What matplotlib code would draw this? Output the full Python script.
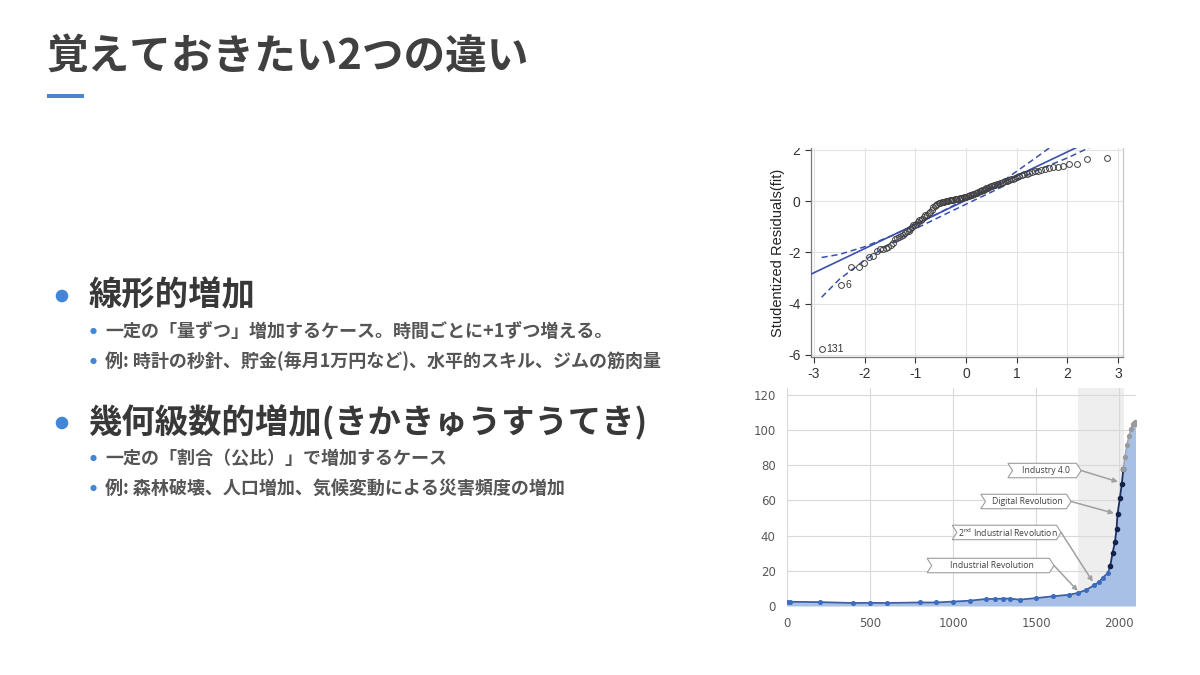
import matplotlib
matplotlib.use("Agg")
import matplotlib.pyplot as plt
from matplotlib.patches import Polygon, Rectangle, Ellipse

# ---- data ----
title = "覚えておきたい2つの違い"
heading_1 = "線形的増加"
bullets_1 = ["一定の「量ずつ」増加するケース。時間ごとに+1ずつ増える。",
             "例: 時計の秒針、貯金(毎月1万円など)、水平的スキル、ジムの筋肉量"]
heading_2 = "幾何級数的増加(きかきゅうすうてき)"
bullets_2 = ["一定の「割合（公比）」で増加するケース",
             "例: 森林破壊、人口増加、気候変動による災害頻度の増加"]

# Q-Q plot (t quantiles vs studentized residuals)
qq_x = [-2.85, -2.47, -2.28, -2.12, -2.01, -1.92, -1.84, -1.76, -1.70, -1.64,
        -1.58, -1.53, -1.48, -1.44, -1.40, -1.36, -1.32, -1.28, -1.24, -1.20,
        -1.17, -1.13, -1.10, -1.07, -1.04, -1.01, -0.98, -0.95, -0.92, -0.89,
        -0.86, -0.83, -0.80, -0.77, -0.74, -0.71, -0.68, -0.65, -0.62, -0.60,
        -0.57, -0.54, -0.51, -0.48, -0.46, -0.43, -0.40, -0.38, -0.35, -0.32,
        -0.30, -0.27, -0.25, -0.22, -0.19, -0.17, -0.14, -0.12, -0.09, -0.07,
        -0.04, -0.02, 0.01, 0.03, 0.06, 0.08, 0.11, 0.13, 0.16, 0.19,
        0.21, 0.24, 0.27, 0.29, 0.32, 0.35, 0.38, 0.40, 0.43, 0.46,
        0.49, 0.52, 0.55, 0.58, 0.61, 0.64, 0.68, 0.71, 0.74, 0.78,
        0.81, 0.85, 0.89, 0.93, 0.97, 1.01, 1.05, 1.10, 1.15, 1.20,
        1.25, 1.30, 1.36, 1.42, 1.49, 1.56, 1.64, 1.72, 1.81, 1.92,
        2.04, 2.19, 2.39, 2.79]
qq_y = [-5.75, -3.28, -2.57, -2.57, -2.41, -2.18, -2.15, -1.93, -1.88, -1.85,
        -1.82, -1.80, -1.72, -1.64, -1.47, -1.44, -1.40, -1.37, -1.33, -1.25,
        -1.18, -1.15, -1.10, -1.02, -0.95, -0.92, -0.88, -0.80, -0.75, -0.72,
        -0.68, -0.62, -0.56, -0.53, -0.48, -0.42, -0.35, -0.24, -0.18, -0.15,
        -0.12, -0.09, -0.07, -0.05, -0.04, -0.02, 0.00, 0.01, 0.02, 0.03,
        0.04, 0.05, 0.06, 0.07, 0.08, 0.09, 0.10, 0.11, 0.12, 0.13,
        0.14, 0.15, 0.17, 0.19, 0.21, 0.23, 0.25, 0.27, 0.29, 0.31,
        0.33, 0.36, 0.38, 0.40, 0.42, 0.45, 0.48, 0.50, 0.52, 0.55,
        0.58, 0.60, 0.62, 0.64, 0.66, 0.68, 0.70, 0.72, 0.74, 0.77,
        0.79, 0.82, 0.85, 0.88, 0.91, 0.94, 0.97, 1.01, 1.04, 1.07,
        1.10, 1.13, 1.16, 1.19, 1.22, 1.25, 1.28, 1.31, 1.34, 1.38,
        1.43, 1.46, 1.66, 1.69]
qq_labels = {1: "6", 0: "131"}
fit_x = [-3.06, 2.3]
fit_y = [-2.85, 2.2]
env_hi_x = [-2.85, -2.5, -2.0, -1.5, -1.0, -0.5, 0.0, 0.5, 0.8, 1.1, 1.4, 1.7]
env_hi_y = [-2.2, -2.08, -1.78, -1.38, -0.93, -0.43, 0.08, 0.55, 0.88, 1.3, 1.72, 2.15]
env_lo_x = [-2.85, -2.5, -2.2, -2.0, -1.5, -1.0, -0.5, 0.0, 0.5, 1.0, 1.5, 2.0, 2.45]
env_lo_y = [-3.75, -3.05, -2.6, -2.3, -1.68, -1.08, -0.6, -0.12, 0.35, 0.83, 1.28, 1.68, 2.1]

# long-run growth curve
years_hist = [0, 20, 200, 400, 500, 600, 800, 900, 1000, 1100, 1200, 1250,
              1300, 1340, 1400, 1500, 1600, 1700, 1750, 1800, 1850, 1880,
              1900, 1930, 1945]
vals_hist = [2.4, 2.4, 2.2, 1.7, 1.8, 1.7, 2.0, 2.0, 2.5, 3.0, 4.0, 4.0,
             4.2, 4.2, 3.6, 4.5, 5.5, 6.4, 7.4, 9.1, 11.9, 13.8,
             16.1, 18.6, 22.7]
years_mod = [1945, 1959, 1973, 1983, 1989, 2003, 2014, 2024]
vals_mod = [22.7, 30.0, 36.2, 43.8, 52.3, 61.2, 69.1, 77.7]
years_proj = [2024, 2034, 2046, 2058, 2070, 2082, 2092, 2097]
vals_proj = [77.7, 84.8, 91.5, 96.5, 100.5, 103.5, 104.5, 103.5]
shade_span = [1750, 2030]
callouts = ["Industry 4.0", "Digital Revolution",
            "2$^{\\mathrm{nd}}$ Industrial Revolution", "Industrial Revolution"]
callout_targets = [(1991, 70.6), (1967, 52.7), (1840, 13.8), (1750, 8.6)]

# ---- layout ----
plt.rcParams["axes.unicode_minus"] = False
W, H = 1200, 675
fig = plt.figure(figsize=(12, 6.75), dpi=100)
fig.patch.set_facecolor("white")
JP = ["Noto Sans CJK JP", "DejaVu Sans"]
BLUE = "#4386d8"


def fx(px):
    return px / W


def fy(py):
    return 1 - py / H


def dot(px, py, r):
    fig.patches.append(Ellipse((fx(px), fy(py)), 2 * r / W, 2 * r / H,
                               transform=fig.transFigure, color=BLUE, lw=0))


fig.text(fx(47), fy(58), title, family=JP, fontsize=30, fontweight="bold",
         color="#404040", va="center", ha="left")
fig.patches.append(Rectangle((fx(47), fy(98)), 37 / W, 4 / H, transform=fig.transFigure,
                             color="#4a86cf", lw=0))


def bullet_block(y_head, head, subs):
    dot(62, y_head, 6.3)
    fig.text(fx(89), fy(y_head), head, family=JP, fontsize=24, fontweight="bold",
             color="#383838", va="center", ha="left")
    for i, s in enumerate(subs):
        yy = y_head + 35 + i * 30
        dot(93.5, yy, 3.1)
        fig.text(fx(105), fy(yy), s, family=JP, fontsize=13, fontweight="bold",
                 color="#555555", va="center", ha="left")


bullet_block(296, heading_1, bullets_1)
bullet_block(423, heading_2, bullets_2)

# ---- Q-Q plot ----
ax1 = fig.add_axes([fx(811), fy(357), (1123 - 811) / W, (357 - 148) / H])
ax1.set_zorder(1)
ax1.set_xlim(-3.06, 3.1)
ax1.set_ylim(-6.08, 2.07)
ax1.set_xticks([-3, -2, -1, 0, 1, 2, 3])
ax1.set_yticks([-6, -4, -2, 0, 2])
ax1.grid(True, color="#e3e3e3", lw=0.8)
ax1.set_axisbelow(True)
for sp in ax1.spines.values():
    sp.set_color("#7a7a7a")
    sp.set_linewidth(0.9)
ax1.spines["top"].set_visible(False)
ax1.spines["right"].set_color("#c8c8c8")
ax1.tick_params(labelsize=10, colors="#333333", length=4, width=0.8,
                labelfontfamily="Liberation Sans")
ax1.set_ylabel("Studentized Residuals(fit)", fontsize=10.5, family="Liberation Sans",
               color="#222222", labelpad=2)
ax1.set_xlabel("t Quantiles", fontsize=10.5, family="Liberation Sans", color="#222222",
               labelpad=6)
ax1.plot(fit_x, fit_y, color="#3a4fae", lw=1.2, zorder=3)
ax1.plot(env_hi_x, env_hi_y, color="#3a4fae", lw=1.1, ls=(0, (4, 2.5)), zorder=3)
ax1.plot(env_lo_x, env_lo_y, color="#3a4fae", lw=1.1, ls=(0, (4, 2.5)), zorder=3)
ax1.plot(qq_x, qq_y, ls="none", marker="o", ms=4.2, mfc="none", mec="#404040",
         mew=0.7, zorder=4)
for idx, lab in qq_labels.items():
    ax1.annotate(lab, (qq_x[idx], qq_y[idx]), xytext=(3, 0), textcoords="offset points",
                 fontsize=7.5, family="Liberation Sans", color="#333333", va="center")

# crop of the screenshot top
fig.patches.append(Rectangle((fx(750), fy(148)), 420 / W, 20 / H, transform=fig.transFigure,
                             color="white", lw=0, zorder=10))

# ---- growth curve ----
ax2 = fig.add_axes([fx(786.7), fy(606), (1136 - 786.7) / W, (606 - 388) / H])
ax2.set_zorder(2)
ax2.set_facecolor("white")
ax2.set_xlim(0, 2100)
ax2.set_ylim(0, 123.9)
ax2.set_xticks([0, 500, 1000, 1500, 2000])
ax2.set_yticks([0, 20, 40, 60, 80, 100, 120])
ax2.grid(True, color="#d9d9d9", lw=0.8)
ax2.set_axisbelow(True)
for sp in ax2.spines.values():
    sp.set_visible(False)
ax2.tick_params(length=0, labelsize=8.5, colors="#595959", pad=8)
ax2.axvspan(shade_span[0], shade_span[1], color="#eeeeee", lw=0, zorder=0.5)

all_years = years_hist + years_mod[1:] + years_proj[1:]
all_vals = vals_hist + vals_mod[1:] + vals_proj[1:]
ax2.fill_between(all_years, all_vals, color="#a8c0e6", lw=0, zorder=1)
ax2.plot(years_hist, vals_hist, color="#3f5fa5", lw=1.3, marker="o", ms=2.6,
         mfc="#3b6cc0", mec="#3b6cc0", zorder=3)
ax2.plot(years_mod, vals_mod, color="#1e2f5e", lw=1.3, marker="o", ms=3.0,
         mfc="#14224a", mec="#14224a", zorder=3)
ax2.plot(years_proj, vals_proj, color="#9aa8c0", lw=1.3, marker="o", ms=2.8,
         mfc="#9a9a9a", mec="#9a9a9a", zorder=3)

boxes = [(1330, 1770, 77.0), (1167, 1710, 59.4), (995, 1650, 41.8), (844, 1607, 23.0)]
for (x0, x1, yc), lab, (tx, ty) in zip(boxes, callouts, callout_targets):
    h, n = 4.1, 28
    pts = [(x0, yc + h), (x1 - n, yc + h), (x1, yc), (x1 - n, yc - h), (x0, yc - h),
           (x0 + n, yc)]
    ax2.add_patch(Polygon(pts, closed=True, fc="white", ec="#9d9d9d", lw=0.8, zorder=5))
    ax2.text((x0 + x1) / 2 + 10, yc, lab, ha="center", va="center", fontsize=6.2,
             family="Open Sans", color="#404040", zorder=6)
    ax2.annotate("", xy=(tx, ty), xytext=(x1, yc),
                 arrowprops=dict(arrowstyle="-|>", color="#a0a0a0", lw=1.1,
                                 mutation_scale=7, shrinkA=0, shrinkB=0), zorder=4)

fig.savefig("out.png", dpi=100)
